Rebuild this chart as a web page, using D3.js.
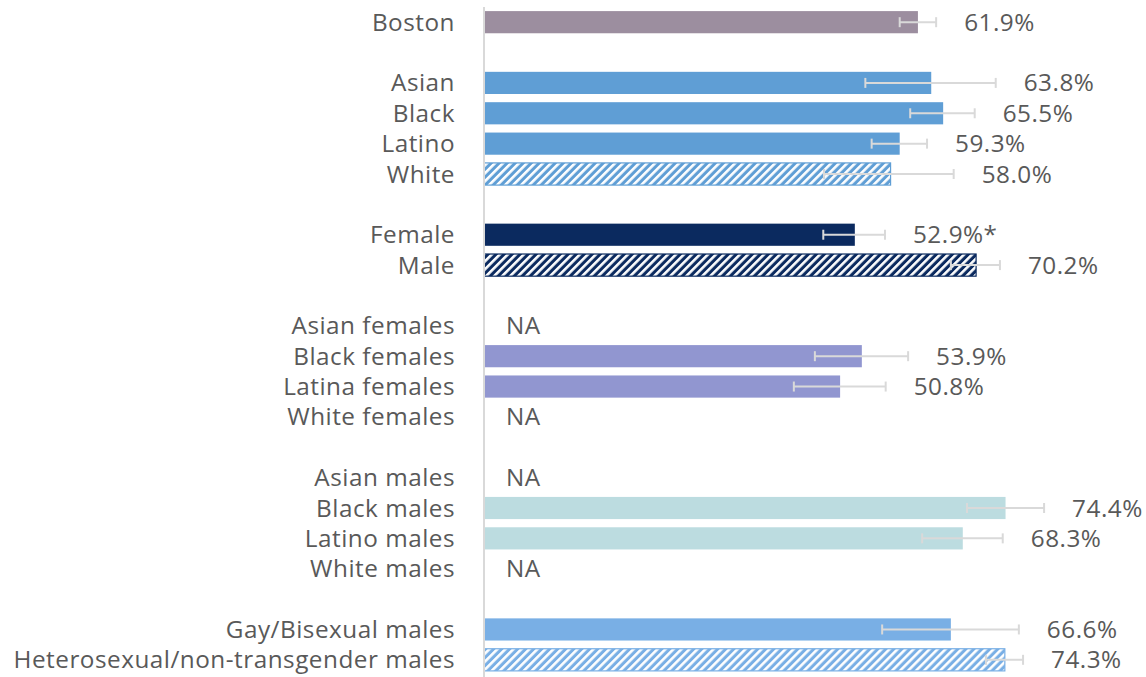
<!DOCTYPE html>
<html><head><meta charset="utf-8">
<script src="https://cdn.jsdelivr.net/npm/d3@7"></script>
<style>body{margin:0;background:#fff}svg{display:block}</style>
</head><body>
<svg id="c" width="1146" height="677"></svg>
<script>
// Categories (empty strings are group spacers)
const categories = ["Boston","",
  "Asian","Black","Latino","White","",
  "Female","Male","",
  "Asian females","Black females","Latina females","White females","",
  "Asian males","Black males","Latino males","White males","",
  "Gay/Bisexual males","Heterosexual/non-transgender males"];
const values = [61.9,null, 63.8,65.5,59.3,58.0,null, 52.9,70.2,null, null,53.9,50.8,null,null, null,74.4,68.3,null,null, 66.6,74.3];
const lower  = [59.3,null, 54.4,60.8,55.3,48.5,null, 48.4,66.6,null, null,47.2,44.2,null,null, null,68.9,62.5,null,null, 56.8,71.6];
const upper  = [64.5,null, 73.0,70.0,63.2,67.0,null, 57.2,73.6,null, null,60.5,57.3,null,null, null,79.9,74.0,null,null, 76.3,76.9];
const labels = ["61.9%","", "63.8%","65.5%","59.3%","58.0%","", "52.9%*","70.2%","", "NA","53.9%","50.8%","NA","", "NA","74.4%","68.3%","NA","", "66.6%","74.3%"];
const groups = ["boston","", "race","race","race","race_ref","", "female","male_ref","", "fem","fem","fem","fem","", "male","male","male","male","", "gay","het_ref"];

const colors = {boston:"#9C8E9F", race:"#5F9ED5", female:"#0B2A5F", fem:"#9196D0", male:"#BCDCE0", gay:"#79AFE5"};
const hatchBase = {race_ref:"#5F9ED5", male_ref:"#0B2A5F", het_ref:"#79AFE5"};

const svg = d3.select("#c");
const ids = categories.map((c,i)=>i);
const y = d3.scaleBand().domain(ids).range([7,675]).paddingInner(0.27).paddingOuter(0.135);
const x = d3.scaleLinear().domain([0,100]).range([484,484+701]);

const defs = svg.append("defs");
Object.entries(hatchBase).forEach(([k,c])=>{
  const p = defs.append("pattern").attr("id","h_"+k).attr("patternUnits","userSpaceOnUse")
    .attr("width",5.66).attr("height",5.66).attr("patternTransform","rotate(45)");
  p.append("rect").attr("width",5.66).attr("height",5.66).attr("fill",c);
  p.append("rect").attr("x",0).attr("width",2.6).attr("height",5.66).attr("fill","#fff");
});

const fill = g => colors[g] ? colors[g] : "url(#h_"+g+")";
const txt = "#595959";
const font = "'Open Sans', sans-serif";
const fs = "24.3px";
const ls = "0.5px";

// bars
ids.forEach(i=>{
  if(values[i]==null) return;
  const g = groups[i];
  const r = svg.append("rect").attr("x",x(0)).attr("y",y(i)).attr("width",x(values[i])-x(0)).attr("height",y.bandwidth()).attr("fill",fill(g));
  if(hatchBase[g]) r.attr("stroke",hatchBase[g]).attr("stroke-width",1.2);
});

// axis line
svg.append("line").attr("x1",x(0)).attr("x2",x(0)).attr("y1",7).attr("y2",677).attr("stroke","#D9D9D9").attr("stroke-width",2);

// error bars
ids.forEach(i=>{
  if(lower[i]==null) return;
  const cy = y(i)+y.bandwidth()/2;
  const eg = svg.append("g").attr("stroke","#D9D9D9").attr("stroke-width",2);
  eg.append("line").attr("x1",x(lower[i])).attr("x2",x(upper[i])).attr("y1",cy).attr("y2",cy);
  [lower[i],upper[i]].forEach(v=>eg.append("line").attr("x1",x(v)).attr("x2",x(v)).attr("y1",cy-5).attr("y2",cy+5));
});

// category labels
ids.forEach(i=>{
  if(!categories[i]) return;
  svg.append("text").attr("x",455).attr("y",y(i)+y.bandwidth()/2).attr("dy","0.35em")
    .attr("text-anchor","end").attr("fill",txt).style("font-family",font).style("font-size",fs)
    .style("letter-spacing",ls).text(categories[i]);
});

// value labels
ids.forEach(i=>{
  if(!labels[i]) return;
  const lx = values[i]==null ? 506 : x(Math.max(values[i],upper[i]))+28;
  svg.append("text").attr("x",lx).attr("y",y(i)+y.bandwidth()/2).attr("dy","0.35em")
    .attr("fill",txt).style("font-family",font).style("font-size",fs).style("letter-spacing",ls).text(labels[i]);
});
</script>
</body></html>
